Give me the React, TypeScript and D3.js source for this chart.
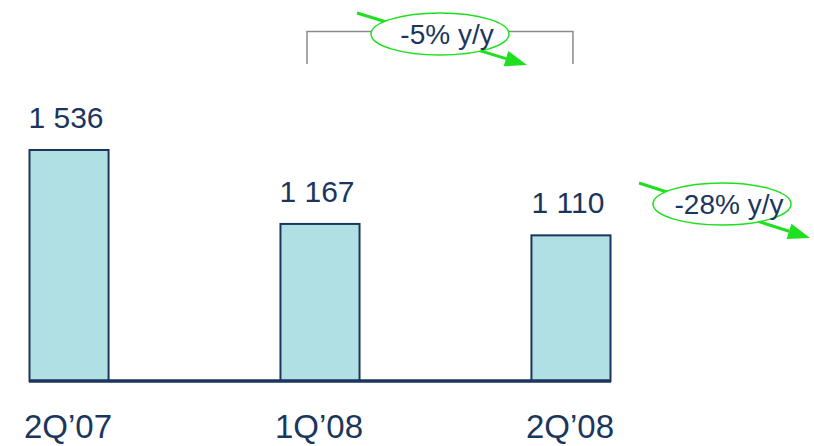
import React from "react";
import * as d3 from "d3";

const categories = ["2Q\u201907", "1Q\u201908", "2Q\u201908"];
const values = [1536, 1167, 1110];
const valueLabels = ["1 536", "1 167", "1 110"];
const changeLabels = ["-5% y/y", "-28% y/y"];

const W = 814;
const H = 446;
const NAVY = "#1b365d";
const FILL = "#b0dfe4";
const GREEN = "#1ee01e";
const FONT = "Arial, 'Liberation Sans', sans-serif";

function Callout({ cx, cy, x1, y1, x2, y2, label }: { cx: number; cy: number; x1: number; y1: number; x2: number; y2: number; label: string }) {
  const ang = Math.atan2(y2 - y1, x2 - x1);
  const L = 22, hw = 8;
  const bx = x2 - L * Math.cos(ang), by = y2 - L * Math.sin(ang);
  const px = -Math.sin(ang) * hw, py = Math.cos(ang) * hw;
  const head = `M${x2},${y2}L${bx + px},${by + py}L${bx - px},${by - py}Z`;
  return (
    <g>
      <line x1={x1} y1={y1} x2={bx} y2={by} stroke={GREEN} strokeWidth={3} />
      <path d={head} fill={GREEN} />
      <ellipse cx={cx} cy={cy} rx={69} ry={21} fill="#fff" stroke={GREEN} strokeWidth={1.5} />
      <text x={cx + 7} y={cy + 10} textAnchor="middle" fontSize={28} fill={NAVY} fontFamily={FONT}>{label}</text>
    </g>
  );
}

export default function App() {
  const x = d3.scaleBand<string>().domain(categories).range([29.5, 610.5]).paddingInner(0.685).paddingOuter(0);
  const y = d3.scaleLinear().domain([383, 1536]).range([381, 150]);
  const bw = x.bandwidth();
  const cx = (c: string) => (x(c) as number) + bw / 2;

  const b2 = cx(categories[1]) - 13;
  const b3 = cx(categories[2]) + 2;

  return (
    <svg width={W} height={H} style={{ position: "absolute", left: 0, top: 0, background: "#fff" }}>
      {categories.map((c, i) => (
        <g key={c}>
          <rect x={x(c)} y={y(values[i])} width={bw} height={y(383) - y(values[i])} fill={FILL} stroke={NAVY} strokeWidth={2} />
          <text x={cx(c) - 3} y={y(values[i]) - 22} textAnchor="middle" fontSize={30} fill={NAVY} fontFamily={FONT}>{valueLabels[i]}</text>
          <text x={cx(c) - 1} y={438} textAnchor="middle" fontSize={33} fill={NAVY} fontFamily={FONT}>{c}</text>
        </g>
      ))}
      <line x1={29} x2={611} y1={381} y2={381} stroke={NAVY} strokeWidth={3.5} />
      <path d={`M${b2},64V31.5H${b3}V64`} fill="none" stroke="#8a8a8a" strokeWidth={1.5} />
      <Callout cx={440} cy={34} x1={357} y1={13} x2={527} y2={65} label={changeLabels[0]} />
      <Callout cx={722} cy={204} x1={639} y1={183} x2={810} y2={238} label={changeLabels[1]} />
    </svg>
  );
}
